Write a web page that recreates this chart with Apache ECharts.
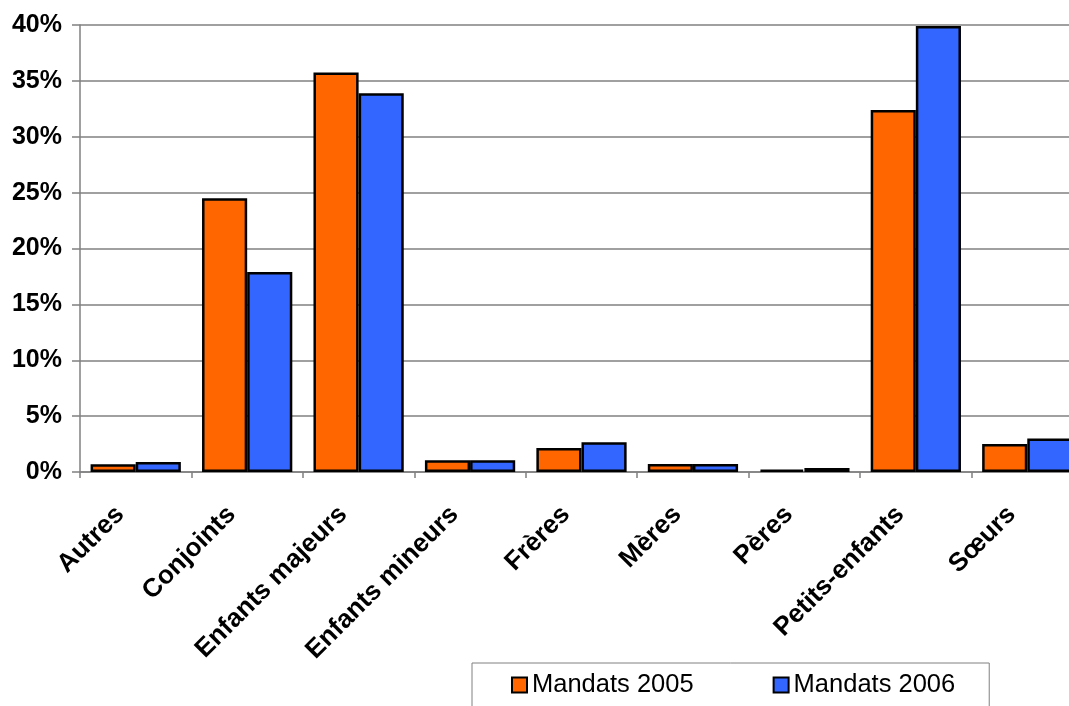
<!DOCTYPE html>
<html>
<head>
<meta charset="utf-8">
<script src="https://cdn.jsdelivr.net/npm/echarts@6/dist/echarts.min.js"></script>
<style>
html,body{margin:0;padding:0;background:#fff;}
#c{width:1069px;height:706px;}
</style>
</head>
<body>
<div id="c"></div>
<script>
const categories = ['Autres','Conjoints','Enfants majeurs','Enfants mineurs','Frères','Mères','Pères','Petits-enfants','Sœurs'];
const mandats2005 = [0.7, 24.5, 35.75, 1.05, 2.15, 0.72, 0.21, 32.4, 2.5];
const mandats2006 = [0.9, 17.9, 33.9, 1.05, 2.66, 0.72, 0.36, 39.9, 3.0];
const seriesNames = ['Mandats 2005','Mandats 2006'];

const chart = echarts.init(document.getElementById('c'), null, {renderer:'canvas'});
const font = '"Liberation Sans", Arial, sans-serif';
chart.setOption({
  animation:false,
  backgroundColor:'#fff',
  grid:{left:80, top:25, width:1003, height:447, containLabel:false, outerBoundsMode:'none'},
  legend:{
    left:472, top:663,
    padding:[9,34,40,39],
    itemGap:79,
    itemWidth:15, itemHeight:15,
    icon:'rect',
    itemStyle:{borderColor:'#000', borderWidth:2},
    borderColor:'#808080', borderWidth:1,
    textStyle:{fontFamily:font, fontSize:25.5, color:'#000'},
    data:seriesNames
  },
  xAxis:{
    type:'category',
    data:categories,
    boundaryGap:true,
    axisLine:{lineStyle:{color:'#808080', width:1.5}},
    axisTick:{show:true, length:6, lineStyle:{color:'#808080', width:1.5}},
    axisLabel:{rotate:45, interval:0, margin:23, padding:[0,22,0,0], fontFamily:font, fontWeight:'bold', fontSize:26, color:'#000'}
  },
  yAxis:{
    type:'value', min:0, max:40, interval:5,
    axisLine:{show:true, lineStyle:{color:'#808080', width:1.5}},
    axisTick:{show:true, length:8, lineStyle:{color:'#808080', width:1.5}},
    axisLabel:{formatter:'{value}%', margin:18, fontFamily:font, fontWeight:'bold', fontSize:25, color:'#000'},
    splitLine:{show:true, lineStyle:{color:'#808080', width:1.5}}
  },
  series:[
    {name:seriesNames[0], type:'bar', data:mandats2005, barGap:'0%', barCategoryGap:'19%',
     itemStyle:{color:'#FF6600', borderColor:'#000', borderWidth:2.5}},
    {name:seriesNames[1], type:'bar', data:mandats2006, barGap:'0%', barCategoryGap:'19%',
     itemStyle:{color:'#3366FF', borderColor:'#000', borderWidth:2.5}}
  ]
});
</script>
</body>
</html>
